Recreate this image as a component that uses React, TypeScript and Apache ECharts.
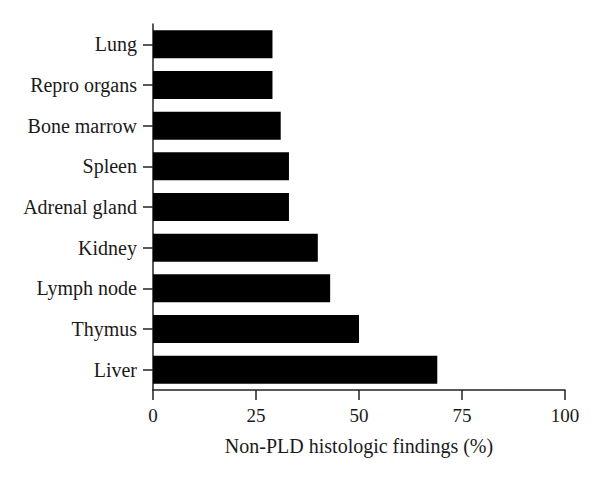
import React, { useEffect, useRef } from "react";
import * as echarts from "echarts";

const categories = [
  "Liver",
  "Thymus",
  "Lymph node",
  "Kidney",
  "Adrenal gland",
  "Spleen",
  "Bone marrow",
  "Repro organs",
  "Lung",
];
const values = [69, 50, 43, 40, 33, 33, 31, 29, 29];
const xTicks = [0, 25, 50, 75, 100];

const FONT = "'Liberation Serif', 'DejaVu Serif', serif";

export default function App() {
  const ref = useRef<HTMLDivElement>(null);
  useEffect(() => {
    if (!ref.current) return;
    const chart = echarts.init(ref.current, undefined, { renderer: "svg" });
    chart.setOption({
      animation: false,
      backgroundColor: "#ffffff",
      grid: { left: 153, right: 35, top: 24, bottom: 87, containLabel: false },
      xAxis: {
        type: "value",
        min: xTicks[0],
        max: xTicks[xTicks.length - 1],
        interval: 25,
        offset: 0,
        name: "Non-PLD histologic findings (%)",
        nameLocation: "middle",
        nameGap: 46,
        nameTextStyle: { fontFamily: FONT, fontSize: 20, color: "#1a1a1a" },
        axisLine: { show: true, lineStyle: { color: "#222", width: 1.5 } },
        axisTick: { show: true, length: 10, lineStyle: { color: "#222", width: 1.5 } },
        axisLabel: { fontFamily: FONT, fontSize: 19, color: "#1a1a1a", margin: 16 },
        splitLine: { show: false },
      },
      yAxis: {
        type: "category",
        data: categories,
        axisLine: { show: true, lineStyle: { color: "#222", width: 1.5 } },
        axisTick: { show: true, length: 10, alignWithLabel: true, lineStyle: { color: "#222", width: 1.5 } },
        axisLabel: { fontFamily: FONT, fontSize: 20, color: "#1a1a1a", margin: 16 },
      },
      series: [
        {
          type: "bar",
          data: values,
          barCategoryGap: "31%",
          itemStyle: { color: "#000" },
        },
      ],
    });
    return () => chart.dispose();
  }, []);
  return <div ref={ref} style={{ width: 600, height: 477, position: "absolute", left: 0, top: 0 }} />;
}
